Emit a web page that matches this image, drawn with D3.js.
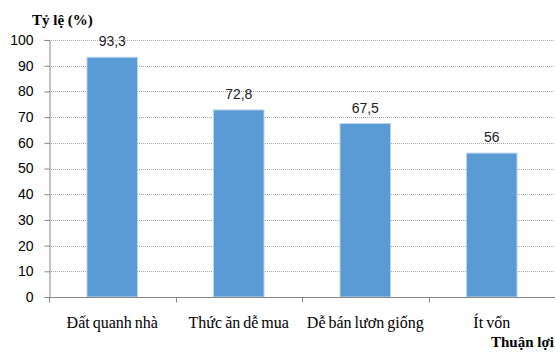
<!DOCTYPE html>
<html>
<head>
<meta charset="utf-8">
<script src="https://cdn.jsdelivr.net/npm/d3@7"></script>
<style>
  body { margin: 0; background: #fff; }
  svg { display: block; }
</style>
</head>
<body>
<svg id="chart" width="555" height="353"></svg>
<script>
// data
const categories = ["Đất quanh nhà", "Thức ăn dễ mua", "Dễ bán lươn giống", "Ít vốn"];
const values = [93.3, 72.8, 67.5, 56];
const labels = ["93,3", "72,8", "67,5", "56"];
const yTicks = [0, 10, 20, 30, 40, 50, 60, 70, 80, 90, 100];

const SERIF = "'Liberation Serif', 'Times New Roman', serif";
const SANS = "'Liberation Sans', Arial, sans-serif";

const svg = d3.select("#chart");
const margin = { top: 40, right: 0, bottom: 56, left: 49 };
const width = 555 - margin.left - margin.right;
const height = 353 - margin.top - margin.bottom;

// bars take ~40% of each category slot
const x = d3.scaleBand().domain(categories).range([0, width]).paddingInner(0.6).paddingOuter(0.3);
const xCat = d3.scaleBand().domain(categories).range([0, width]);
const y = d3.scaleLinear().domain([0, 100]).range([height, 0]);

const g = svg.append("g").attr("transform", "translate(" + margin.left + "," + margin.top + ")");

// dotted gridlines
g.selectAll(".grid")
    .data(yTicks.filter(d => d > 0))
    .enter().append("line")
    .attr("x1", 0).attr("x2", width)
    .attr("y1", d => Math.round(y(d)) + 0.5).attr("y2", d => Math.round(y(d)) + 0.5)
    .attr("stroke", "#a6a6a6")
    .attr("stroke-dasharray", "1,1");

// y axis
const yAxis = g.append("g")
    .attr("transform", "translate(0.5,0)")
    .call(d3.axisLeft(y).tickValues(yTicks).tickSize(5).tickPadding(11));
yAxis.attr("font-family", SANS).attr("font-size", 14);
yAxis.select(".domain").attr("stroke", "#868686");
yAxis.selectAll(".tick line").attr("stroke", "#868686");
yAxis.selectAll("text").attr("fill", "#000");

// bars
g.selectAll(".bar")
    .data(values)
    .enter().append("rect")
    .attr("class", "bar")
    .attr("x", (d, i) => x(categories[i]))
    .attr("y", d => y(d))
    .attr("width", x.bandwidth())
    .attr("height", d => height - y(d))
    .attr("fill", "#5b9bd5")
    .attr("stroke", "#bdd7ee")
    .attr("stroke-width", 1);

// value labels
g.selectAll(".val")
    .data(values)
    .enter().append("text")
    .attr("x", (d, i) => x(categories[i]) + x.bandwidth() / 2)
    .attr("y", d => y(d) - 11)
    .attr("text-anchor", "middle")
    .attr("font-family", SANS)
    .attr("font-size", 14)
    .attr("fill", "#222")
    .text((d, i) => labels[i]);

// x axis, ticks sit between categories
const xg = g.append("g").attr("transform", "translate(0," + (height + 0.5) + ")");
xg.append("line").attr("x1", 0).attr("x2", width).attr("stroke", "#868686");
const bounds = categories.map(c => xCat(c)).concat([width]);
xg.selectAll(".tk")
    .data(bounds)
    .enter().append("line")
    .attr("x1", d => Math.round(d) + 0.5).attr("x2", d => Math.round(d) + 0.5)
    .attr("y1", 0).attr("y2", 5)
    .attr("stroke", "#868686");
xg.selectAll(".cat")
    .data(categories)
    .enter().append("text")
    .attr("x", d => xCat(d) + xCat.bandwidth() / 2)
    .attr("y", 30)
    .attr("text-anchor", "middle")
    .attr("font-family", SERIF)
    .attr("font-size", 16)
    .attr("word-spacing", -1)
    .text(d => d);

// axis titles
svg.append("text")
    .attr("x", 32).attr("y", 25)
    .attr("font-family", SERIF)
    .attr("font-size", 15).attr("font-weight", "bold")
    .text("Tỷ lệ (%)");
svg.append("text")
    .attr("x", 491).attr("y", 347)
    .attr("font-family", SERIF)
    .attr("font-size", 15).attr("font-weight", "bold")
    .text("Thuận lợi");
</script>
</body>
</html>
